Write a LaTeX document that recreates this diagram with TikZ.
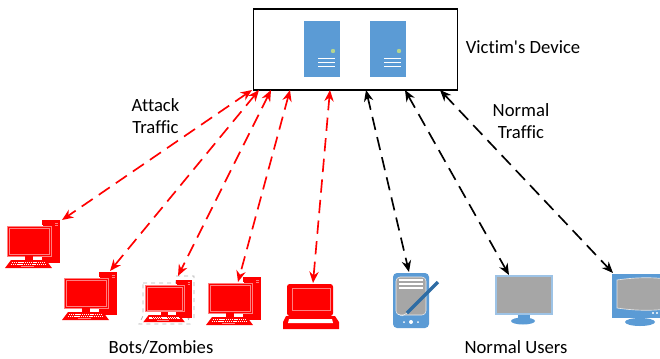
\documentclass[tikz,border=0pt]{standalone}
\usepackage{fontspec}
\setmainfont[Ligatures={NoCommon,TeXOff}]{Carlito}
\definecolor{botred}{HTML}{ff0000}
\definecolor{botpink}{HTML}{ff8080}
\definecolor{userblue}{HTML}{5b9bd5}
\definecolor{usergray}{HTML}{a6a6a6}
\definecolor{penblue}{HTML}{2e6ca4}
\definecolor{ledgreen}{HTML}{b5d58f}
\usetikzlibrary{%
    arrows.meta,
    positioning,
}
\tikzset{%
    label/.style = {
        font=\fontsize{14pt}{16.5pt}\selectfont,
        align=center,
    },
    victimbox/.style = {
        draw=black,
        line width=1.3pt,
        fill=white,
        rectangle,
        minimum width=153pt,
        minimum height=60.75pt,
        anchor=north west,
    },
    link/.style = {
        line width=1.25pt,
        dash pattern=on 10pt off 5.5pt,
        {Stealth[length=8.5pt,width=7pt]}-{Stealth[length=8.5pt,width=7pt]},
    },
    attack/.style = {
        link,
        draw=botred,
    },
    normal/.style = {
        link,
        draw=black,
    },
    server/.pic = {
        \fill [userblue] (0,0) rectangle (36,56);
        \fill [ledgreen] (29,30) circle (2.2);
        \draw [white, line width=.7pt] (14,37) -- (31,37);
        \draw [white, line width=.7pt] (14,41) -- (31,41);
        \draw [white, line width=.7pt] (14,45.5) -- (31,45.5);
    },
    desktop/.pic = {
        \fill [botred] (35,-6) rectangle (53,37);
        \draw [botpink, line width=.4pt] (48,-3) -- (51,-3);
        \draw [botpink, line width=.4pt] (48,-1) -- (51,-1);
        \fill [white] (-1,-1) rectangle (36,31);
        \fill [botred, draw=botpink, line width=.4pt] (0,0) rectangle (44,30);
        \draw [botpink, line width=.4pt] (2,2) rectangle (42,28);
        \fill [white] (18,30.5) rectangle (35,34);
        \fill [botred] (18,30) rectangle (26,34);
        \fill [botred] (4,34) -- (39,34) -- (45,42) -- (-2,42) -- cycle;
        \draw [white, line width=.6pt, dash pattern=on .9pt off .5pt] (5,36) -- (38,36);
        \draw [white, line width=.6pt, dash pattern=on .9pt off .5pt] (4,38) -- (39,38);
        \fill [botpink] (14,40) rectangle (27,41);
    },
    laptop/.pic = {
        \fill [botred] (4,32) -- (4,3) [rounded corners=2pt] -- (4,0) -- (50,0) -- (50,32) -- cycle;
        \draw [botpink, line width=.4pt] (9,4) rectangle (47,26);
        \fill [botred] (3,32) -- (52,32) -- (56,38) -- (56,45) -- (0,45) -- (0,38) -- cycle;
        \fill [white] (6,35) -- (49,35) -- (50,39) -- (5,39) -- cycle;
    },
    tablet/.pic = {
        \fill [userblue, rounded corners=3pt] (0,0) rectangle (36,55);
        \fill [usergray, draw=white!80!usergray, line width=.4pt, rounded corners=3pt] (3,4) rectangle (33,42);
        \draw [white, line width=.8pt] (6,7) -- (30,7);
        \draw [white, line width=.8pt] (6,11) -- (30,11);
        \draw [white, line width=.8pt] (6,15) -- (30,15);
        \draw [penblue, line width=2.6pt] (14,40) -- (45,9);
        \draw [white, line width=.3pt] (5,41) -- (9,43) -- (14,40);
        \fill [white] (18,49) circle (2);
        \fill [white] (11,49) circle (1);
        \fill [white] (25,49) circle (1);
    },
    flatscreen/.pic = {
        \fill [userblue] (22,36) rectangle (34,44);
        \fill [userblue] (27,45) ellipse (12 and 3.5);
        \fill [usergray, draw=userblue!60!white, line width=1pt] (0,0) rectangle (56,38);
    },
    oldscreen/.pic = {
        \fill [userblue] (0,0) rectangle (70,44);
        \fill [userblue] (28,48) ellipse (15 and 4);
        \fill [usergray, draw=white!70!usergray, line width=.5pt] (5,6) .. controls (25,3) and (45,3) .. (60,6) -- (60,34) .. controls (45,37) and (25,37) .. (5,34) -- cycle;
        \fill [white] (41,39) circle (1.2);
        \fill [white] (45,39) circle (1.2);
        \fill [white] (49,39) circle (1.2);
    },
}

\begin{document}
\begin{tikzpicture}[x=.75pt,y=-.75pt]
    \useasboundingbox (0,0) rectangle (660,358);
    \clip (0,0) rectangle (660,358);

    \node [victimbox] (victim) at (252.5,8) {};
    \pic at (304,21) {server};
    \pic at (370,21) {server};

    \coordinate (atktop1) at (252,90);
    \coordinate (atktop2) at (259,90);
    \coordinate (atktop3) at (271,90);
    \coordinate (atktop4) at (290,90);
    \coordinate (atktop5) at (330,90);
    \coordinate (normtop1) at (366,90);
    \coordinate (normtop2) at (405,90);
    \coordinate (normtop3) at (440,90);

    \pic at (7,226) {desktop};
    \pic at (64,278) {desktop};
    \draw [black!30, line width=.6pt, dashed] (143,283) -- (176,283) -- (176,276) -- (194,276) -- (194,318) -- (188,318) -- (190,324) -- (139,324) -- (143,316) -- cycle;
    \pic [scale=.886] at (145,285) {desktop};
    \pic at (208,283) {desktop};
    \pic at (283,284) {laptop};
    \pic at (393,273) {tablet};
    \pic at (496,276) {flatscreen};
    \pic at (612,274) {oldscreen};

    \coordinate (bot1) at (62,220);
    \coordinate (bot2) at (110,271);
    \coordinate (bot3) at (178,276);
    \coordinate (bot4) at (238,282);
    \coordinate (bot5) at (313,283);
    \coordinate (user1) at (409,272);
    \coordinate (user2) at (509,275);
    \coordinate (user3) at (613,273);

    \draw [attack] (atktop1) -- (bot1);
    \draw [attack] (atktop2) -- (bot2);
    \draw [attack] (atktop3) -- (bot3);
    \draw [attack] (atktop4) -- (bot4);
    \draw [attack] (atktop5) -- (bot5);
    \draw [normal] (normtop1) -- (user1);
    \draw [normal] (normtop2) -- (user2);
    \draw [normal] (normtop3) -- (user3);

    \node [label] (victimlabel) at (523,47) {Victim's Device};
    \node [label] (attacklabel) at (155.5,116) {Attack\\Traffic};
    \node [label] (normallabel) at (521,121) {Normal\\Traffic};
    \node [label] (botslabel) at (161,347) {Bots/Zombies};
    \node [label] (userslabel) at (516,347) {Normal Users};
\end{tikzpicture}
\end{document}
